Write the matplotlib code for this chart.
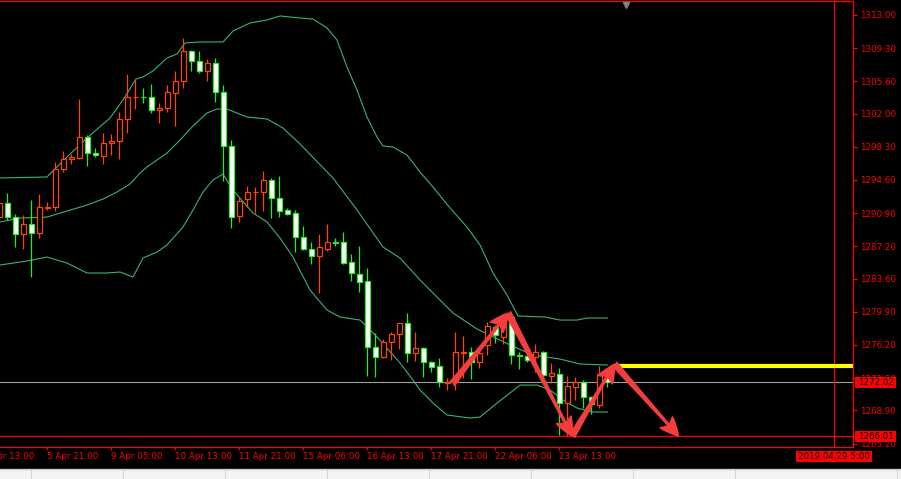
import numpy as np
import matplotlib.pyplot as plt
import matplotlib.transforms as mtransforms
from matplotlib.patches import Rectangle, FancyArrowPatch
from matplotlib.lines import Line2D

plt.rcParams['font.family'] = ['DejaVu Sans']

# ---- data (H4 candles) ----
candle_idx = np.arange(-1, 76)

opens = [1290.46, 1292.03, 1290.46, 1288.57, 1289.68, 1288.68, 1291.52, 1291.58, 1295.82, 1296.94,
         1297.05, 1299.39, 1297.60, 1297.27, 1298.72, 1298.94, 1301.40, 1303.80, 1303.85, 1303.85,
         1302.40, 1302.62, 1304.30, 1305.64, 1308.98, 1307.87, 1306.75, 1307.64, 1304.41, 1298.39,
         1290.58, 1292.47, 1293.20, 1293.25, 1294.59, 1292.58, 1291.25, 1290.91, 1288.23, 1286.89,
         1286.11, 1286.89, 1287.68, 1287.68, 1285.44, 1284.11, 1283.33, 1275.96, 1274.85, 1276.52,
         1277.41, 1278.64, 1275.29, 1275.85, 1274.29, 1273.84, 1272.00, 1272.06, 1275.35, 1275.40,
         1274.29, 1276.19, 1278.19, 1277.08, 1279.31, 1275.07, 1274.96, 1274.85, 1275.40, 1272.73,
         1272.95, 1269.71, 1271.50, 1272.06, 1270.38, 1269.49, 1272.95]

highs = [1292.36, 1293.14, 1290.80, 1290.69, 1292.36, 1293.03, 1292.14, 1296.60, 1297.83, 1297.49,
         1303.63, 1299.61, 1298.16, 1299.84, 1299.72, 1302.18, 1306.42, 1305.75, 1304.86, 1305.30,
         1303.18, 1305.19, 1306.75, 1310.43, 1309.10, 1308.98, 1308.09, 1308.20, 1305.19, 1299.05,
         1292.70, 1293.92, 1293.81, 1295.60, 1294.82, 1295.04, 1291.47, 1291.25, 1289.46, 1287.68,
         1288.57, 1289.68, 1288.12, 1288.79, 1286.34, 1287.23, 1284.78, 1277.52, 1276.85, 1277.64,
         1278.64, 1279.76, 1277.64, 1275.96, 1274.40, 1274.74, 1272.50, 1277.64, 1277.19, 1275.96,
         1275.85, 1278.75, 1278.42, 1279.53, 1279.53, 1275.40, 1275.29, 1276.30, 1275.52, 1274.18,
         1273.62, 1272.73, 1272.62, 1272.28, 1270.50, 1273.84, 1273.40]

lows = [1290.13, 1290.13, 1287.12, 1286.89, 1283.77, 1288.12, 1291.25, 1291.13, 1295.48, 1296.38,
        1296.94, 1296.15, 1297.16, 1296.38, 1297.38, 1296.94, 1299.84, 1302.51, 1303.18, 1302.07,
        1300.95, 1302.18, 1300.62, 1304.86, 1306.75, 1306.53, 1305.64, 1303.29, 1294.48, 1289.24,
        1289.91, 1291.58, 1290.91, 1291.13, 1290.35, 1290.46, 1290.69, 1286.56, 1286.78, 1285.22,
        1281.99, 1286.67, 1287.23, 1285.22, 1283.33, 1282.10, 1272.73, 1272.62, 1274.74, 1274.51,
        1275.74, 1274.29, 1274.40, 1272.62, 1273.17, 1271.50, 1271.17, 1271.17, 1272.50, 1272.39,
        1273.62, 1275.07, 1276.41, 1276.30, 1274.07, 1273.51, 1274.29, 1273.17, 1272.06, 1271.95,
        1266.14, 1266.03, 1270.05, 1269.16, 1268.49, 1269.16, 1271.50]

closes = [1292.03, 1290.46, 1288.57, 1289.68, 1288.68, 1291.58, 1291.58, 1295.82, 1296.94, 1297.16,
          1299.39, 1297.60, 1297.38, 1298.72, 1298.94, 1301.40, 1303.85, 1303.85, 1303.80, 1302.40,
          1302.62, 1304.41, 1305.64, 1308.98, 1307.87, 1306.75, 1307.64, 1304.41, 1298.39, 1290.46,
          1292.25, 1293.25, 1293.25, 1294.59, 1292.58, 1291.13, 1290.80, 1288.23, 1286.89, 1286.11,
          1287.12, 1287.68, 1287.62, 1285.33, 1284.22, 1283.21, 1275.96, 1274.85, 1276.52, 1277.41,
          1278.64, 1275.29, 1275.85, 1274.29, 1273.73, 1272.06, 1272.06, 1275.40, 1275.40, 1274.29,
          1275.29, 1278.30, 1277.30, 1279.20, 1275.07, 1275.01, 1274.51, 1275.40, 1272.84, 1273.06,
          1269.71, 1271.61, 1272.06, 1270.38, 1269.60, 1272.95, 1272.06]

# bollinger bands, vertices (candle index, price)
upper_x = [-0.91, 4.96, 7.46, 9.96, 12.84, 14.46, 16.09, 16.96, 18.21, 19.96, 21.21, 22.21, 24.09,
           26.96, 28.21, 30.34, 32.46, 34.09, 36.59, 38.21, 39.96, 41.21, 42.46, 43.71, 44.96, 46.21,
           46.96, 48.21, 49.96, 51.59, 53.21, 55.34, 57.46, 59.09, 60.71, 62.46, 63.84, 67.21, 69.09,
           71.21, 72.46, 75.0]
upper_y = [1294.82, 1294.93, 1297.16, 1299.28, 1301.51, 1303.52, 1305.86, 1306.08, 1306.75, 1308.20,
           1308.65, 1309.88, 1309.99, 1309.99, 1311.21, 1312.11, 1312.44, 1312.89, 1312.66, 1312.55,
           1311.55, 1310.21, 1307.20, 1304.63, 1301.62, 1299.39, 1298.39, 1298.27, 1297.38, 1295.48,
           1293.81, 1291.47, 1289.35, 1287.34, 1284.22, 1281.76, 1279.42, 1279.31, 1278.97, 1278.97,
           1279.20, 1279.20]

middle_x = [-0.91, 1.59, 4.96, 7.46, 9.96, 11.96, 13.71, 15.34, 16.59, 17.46, 19.96, 21.59, 23.21,
            24.96, 26.21, 27.46, 29.96, 32.46, 34.46, 36.59, 40.71, 43.71, 46.96, 49.09, 51.59, 53.71,
            55.71, 58.71, 62.84, 65.71, 69.09, 71.59, 75.0]
middle_y = [1289.91, 1290.35, 1290.46, 1291.13, 1291.80, 1292.47, 1293.25, 1294.15, 1295.37, 1296.04,
            1297.60, 1299.05, 1300.62, 1302.07, 1302.51, 1302.51, 1301.62, 1301.40, 1300.39, 1298.61,
            1294.82, 1291.25, 1287.12, 1285.89, 1283.44, 1281.54, 1279.76, 1277.97, 1276.19, 1275.07,
            1274.62, 1274.07, 1273.95]

lower_x = [-0.91, 2.46, 4.96, 7.46, 9.96, 12.46, 14.09, 15.71, 16.96, 18.71, 19.96, 21.96, 23.21,
           24.46, 25.71, 26.96, 28.21, 30.71, 32.46, 34.09, 35.71, 37.84, 39.96, 41.59, 44.09, 46.21,
           49.09, 50.71, 51.59, 53.21, 54.96, 57.84, 59.09, 61.21, 62.84, 64.09, 66.21, 67.84, 69.46,
           71.21, 73.21, 75.0]
lower_y = [1285.11, 1285.56, 1286.00, 1285.33, 1284.22, 1284.22, 1284.33, 1283.77, 1285.89, 1286.56,
           1287.34, 1289.35, 1291.25, 1293.25, 1294.59, 1295.26, 1293.48, 1290.91, 1289.91, 1288.12,
           1286.00, 1282.32, 1280.09, 1279.31, 1278.97, 1277.08, 1274.18, 1272.28, 1271.17, 1269.71,
           1268.38, 1268.04, 1268.15, 1269.71, 1270.83, 1271.72, 1271.72, 1271.17, 1270.05, 1269.16,
           1268.71, 1268.71]

# zigzag forecast drawn with arrows
zigzag_x = [55.6, 62.6, 70.6, 75.9, 83.9]
zigzag_y = [1271.85, 1279.76, 1266.03, 1274.06, 1266.03]
resistance_level = 1273.85
resistance_start = 75.9

bid_price = 1272.02
cross_price = 1266.01
cross_idx = 103.34
cross_date = '2019.04.29 5:00'

y_ticks = [1313.00, 1309.30, 1305.60, 1302.00, 1298.30, 1294.60, 1290.90, 1287.20,
           1283.60, 1279.90, 1276.20, 1272.50, 1268.90, 1265.20]
x_tick_idx = [-3, 5, 13, 21, 29, 37, 45, 53, 61, 69]
x_tick_labels = ['4 Apr 13:00', '5 Apr 21:00', '9 Apr 05:00', '10 Apr 13:00', '11 Apr 21:00',
                 '15 Apr 06:00', '16 Apr 13:00', '17 Apr 21:00', '22 Apr 06:00', '23 Apr 13:00']

# ---- style ----
RED = '#ff0000'
BULL = '#ff4500'
BEAR = '#22ee22'
BAND = '#3cb371'
ARROW = '#f43e3e'
FS = 6.3
W, H = 901, 479

fig = plt.figure(figsize=(W / 100, H / 100), dpi=100, facecolor='black')
ax = fig.add_axes([0, (H - 447) / H, 853 / W, 446 / H])
ax.set_facecolor('black')
ax.set_xlim(-0.9125, 105.71)
ax.set_ylim(1264.81, 1314.56)

for s in ['top', 'right', 'bottom']:
    ax.spines[s].set_color(RED)
    ax.spines[s].set_linewidth(0.9)
ax.spines['left'].set_visible(False)

ax.yaxis.tick_right()
ax.set_yticks(y_ticks)
ax.set_yticklabels(['%.2f' % v for v in y_ticks])
ax.tick_params(axis='y', colors=RED, length=3, width=0.8, pad=2, labelsize=FS)
ax.set_xticks([i for i in x_tick_idx if i >= 0])
ax.set_xticklabels([])
ax.tick_params(axis='x', colors=RED, length=2.5, width=0.8)
for i, lab in zip(x_tick_idx, x_tick_labels):
    ax.annotate(lab, xy=(i, 0), xycoords=('data', 'axes fraction'), xytext=(-0.3, -3.4),
                textcoords='offset points', ha='left', va='top', color=RED, fontsize=FS,
                annotation_clip=False)

# lines behind candles
ax.axhline(bid_price, color='#a0a0a0', lw=0.8, zorder=1)
ax.plot(upper_x, upper_y, color=BAND, lw=0.8, zorder=2)
ax.plot(middle_x, middle_y, color=BAND, lw=0.8, zorder=2)
ax.plot(lower_x, lower_y, color=BAND, lw=0.8, zorder=2)

# candles
o = np.array(opens)
c = np.array(closes)
bull = c >= o
edge = np.where(bull, BULL, BEAR)
face = np.where(bull, 'black', 'white')
ax.vlines(candle_idx, lows, highs, colors=edge, lw=0.9, zorder=3)
ax.bar(candle_idx, np.abs(c - o), bottom=np.minimum(o, c), width=0.6,
       color=face, edgecolor=edge, linewidth=0.9, zorder=4)

# crosshair + levels
ax.axhline(cross_price, color=RED, lw=0.9, zorder=5)
ax.axvline(cross_idx, color=RED, lw=0.9, zorder=5)
ax.hlines(resistance_level, resistance_start, 106, color='#ffff00', lw=3, zorder=5)

for k in range(len(zigzag_x) - 1):
    arr = FancyArrowPatch((zigzag_x[k], zigzag_y[k]), (zigzag_x[k + 1], zigzag_y[k + 1]),
                          arrowstyle='fancy,head_length=1.1,head_width=1.0,tail_width=0.35',
                          mutation_scale=12, color=ARROW, shrinkA=0, shrinkB=0, zorder=6)
    ax.add_patch(arr)

# shift marker at top
ax.plot(77.3, 0.992, marker='v', ms=4, color='#808080', transform=mtransforms.blended_transform_factory(
    ax.transData, ax.transAxes), clip_on=False, zorder=7)

# price boxes on the right scale
tr_y = mtransforms.blended_transform_factory(ax.transAxes, ax.transData)
box_h = 11 / 8.964
for price in [bid_price, cross_price]:
    ax.add_patch(Rectangle((1.0023, price - box_h / 2), 41 / 853, box_h, transform=tr_y,
                           fc=RED, ec='none', clip_on=False, zorder=8))
    ax.text(1.006, price, '%.2f' % price, transform=tr_y, ha='left', va='center',
            color='black', fontsize=FS, clip_on=False, zorder=9)

# date box under the crosshair
tr_x = mtransforms.blended_transform_factory(ax.transData, ax.transAxes)
ax.add_patch(Rectangle((cross_idx - 4.7, -15 / 446), 9.4, 11 / 446, transform=tr_x,
                       fc=RED, ec='none', clip_on=False, zorder=8))
ax.text(cross_idx, -9.6 / 446, cross_date, transform=tr_x, ha='center', va='center',
        color='black', fontsize=FS, clip_on=False, zorder=9)

# status bar strip at the bottom
fig.add_artist(Rectangle((0, 0), 1, 10 / H, transform=fig.transFigure, fc='#f4f4f4', ec='none'))
fig.add_artist(Line2D([0, 1], [10 / H, 10 / H], color='#c8c8c8', lw=1, transform=fig.transFigure))
for sx in [31, 123, 225, 327, 429, 531, 633, 735, 897]:
    fig.add_artist(Line2D([sx / W, sx / W], [0, 9 / H], color='#d4d4d4', lw=0.8,
                          transform=fig.transFigure))

fig.savefig('out.png', dpi=100, facecolor='black')
